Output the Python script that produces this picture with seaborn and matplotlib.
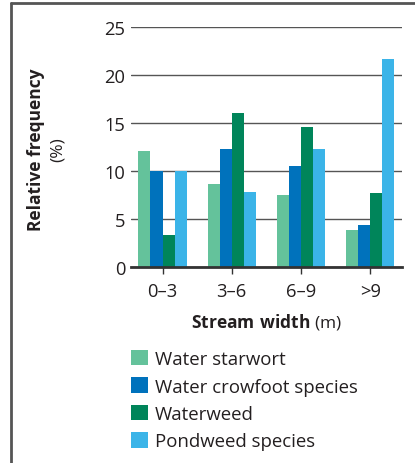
import matplotlib
matplotlib.use('Agg')
import matplotlib.pyplot as plt
import seaborn as sns
import pandas as pd
from matplotlib.lines import Line2D

# Data
widths = ['0–3', '3–6', '6–9', '>9']
species = ['Water starwort', 'Water crowfoot species', 'Waterweed', 'Pondweed species']
starwort = [12.1, 8.65, 7.5, 3.85]
crowfoot = [10.05, 12.3, 10.5, 4.35]
waterweed = [3.3, 16.0, 14.6, 7.7]
pondweed = [10.0, 7.8, 12.3, 21.65]
colors = ['#64C29B', '#0072BC', '#00855A', '#3BB4E8']

rows = []
for name, vals in zip(species, [starwort, crowfoot, waterweed, pondweed]):
    for w, v in zip(widths, vals):
        rows.append({'width': w, 'species': name, 'freq': v})
df = pd.DataFrame(rows)

sns.set_style('white')
plt.rcParams['font.family'] = ['Open Sans', 'DejaVu Sans']
plt.rcParams['mathtext.fontset'] = 'custom'
plt.rcParams['mathtext.rm'] = 'Open Sans'
plt.rcParams['mathtext.bf'] = 'Open Sans:bold'

text_color = '#231F20'
fig = plt.figure(figsize=(4.15, 4.64), dpi=100)
ax = fig.add_axes([130.7 / 415, 1 - 268 / 464, (402 - 130.7) / 415, 240 / 464])

sns.barplot(data=df, x='width', y='freq', hue='species', hue_order=species,
            palette=colors, width=0.7, saturation=1, ax=ax, linewidth=0)

ax.set_ylim(0, 25)
ax.set_xlim(-0.46, 3.46)
ax.set_yticks([0, 5, 10, 15, 20, 25])
ax.yaxis.grid(True, color='#555555', linewidth=1)
ax.xaxis.grid(False)
ax.set_axisbelow(True)
for side in ['left', 'top', 'right']:
    ax.spines[side].set_visible(False)
ax.spines['bottom'].set_color('#333333')
ax.spines['bottom'].set_linewidth(2)
ax.tick_params(axis='y', length=0, pad=4, labelsize=13.2, labelcolor=text_color)
ax.tick_params(axis='x', direction='out', length=5, width=1, color='#333333',
               labelsize=13.2, labelcolor=text_color, pad=6, bottom=True)

ax.set_xlabel(r'$\bf{Stream\ width}$ (m)', fontsize=12.5, color=text_color, labelpad=8)
ax.set_ylabel('')
fig.text(36 / 415, 1 - 150 / 464, 'Relative frequency', rotation=90, ha='center', va='center',
         fontsize=12.5, fontweight='bold', color=text_color)
fig.text(58 / 415, 1 - 150 / 464, '(%)', rotation=90, ha='center', va='center',
         fontsize=12.5, color=text_color)

handles, labels = ax.get_legend_handles_labels()
ax.legend_.remove()
fig.legend(handles, labels, loc='upper left', bbox_to_anchor=(131 / 415, 1 - 351 / 464),
           frameon=False, fontsize=13.4, handlelength=0.9, handleheight=0.9,
           handletextpad=0.4, labelspacing=0.5, borderpad=0, borderaxespad=0,
           labelcolor=text_color)

# frame around the figure (left and top edges only visible)
fig.add_artist(Line2D([11 / 415, 11 / 415], [0, 1 - 4 / 464], color='#555555', linewidth=2))
fig.add_artist(Line2D([11 / 415, 1], [1 - 4 / 464, 1 - 4 / 464], color='#555555', linewidth=2))

fig.savefig('out.png', dpi=100)
